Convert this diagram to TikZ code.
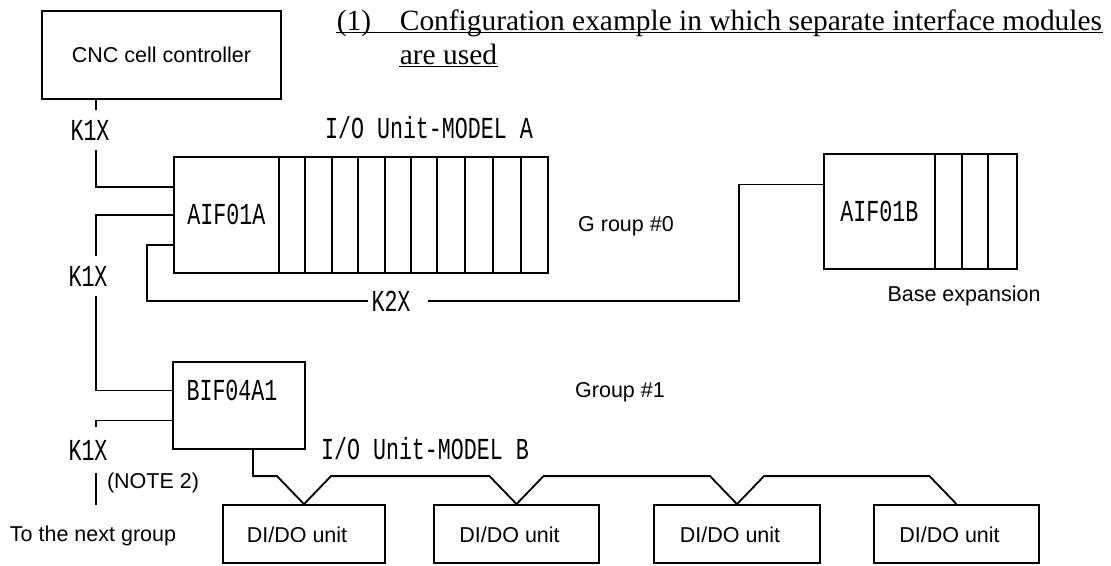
\documentclass[tikz,border=0pt]{standalone}
\usepackage{fontspec}
\setmainfont{Liberation Sans}
\newfontfamily\serifF{Liberation Serif}
\newfontfamily\monoF{Liberation Mono}[FakeStretch=0.71]
\begin{document}
\begin{tikzpicture}[x=1pt,y=-1pt,
  line width=1.8pt,
  every node/.style={font=\fontsize{21.5}{25}\selectfont},
  box/.style={draw, line width=1.8pt, inner sep=0pt},
  mono/.style={font=\monoF\fontsize{30.5}{32}\selectfont, inner sep=0pt},
  sans/.style={font=\fontsize{21.5}{25}\selectfont, inner sep=0pt},
  ttl/.style={font=\serifF\fontsize{29.4}{31}\selectfont, inner sep=0pt, anchor=base west},
  klab/.style={mono, inner ysep=9pt, inner xsep=2pt},
  slot/.style={line width=1.4pt}
]
\useasboundingbox (0,0) rectangle (1111,565);
% title
\node[ttl] (t1) at (336,30) {(1)};
\node[ttl] (t2) at (399,30) {Configuration example in which separate interface modules};
\node[ttl] (t3) at (399,64) {are used};
\draw[line width=1.5pt] ([yshift=-2.5pt]t1.base west) -- ([yshift=-2.5pt]t2.base east);
\draw[line width=1.5pt] ([yshift=-2.5pt]t3.base west) -- ([yshift=-2.5pt]t3.base east);

% CNC
\node[box, minimum width=239pt, minimum height=88pt] (cnc) at (161.5,55) {CNC cell controller};

% I/O unit model A
\node[mono] (labA) at (429,128) {I/O Unit-MODEL A};
\node[box, minimum width=105pt, minimum height=116pt, anchor=north west, font=\monoF\fontsize{30.5}{32}\selectfont] (aif) at (173,156) {AIF01A};
\node[box, minimum width=269pt, minimum height=116pt, anchor=north west] (rackA) at (278,156) {};
\foreach \x in {305,332,358,385,411,437,465,493,521}
  \draw[slot] (\x,156) -- (\x,272);

\node[sans] (g0) at (626,226) {G roup \#0};

% AIF01B
\node[box, minimum width=111pt, minimum height=115pt, anchor=north west, font=\monoF\fontsize{30.5}{32}\selectfont] (aifB) at (823,153) {AIF01B};
\node[box, minimum width=82pt, minimum height=115pt, anchor=north west] (rackB) at (934,153) {};
\foreach \x in {962,988}
  \draw[slot] (\x,153) -- (\x,268);
\node[sans] (bexp) at (964,296) {Base expansion};

% K1X labels
\coordinate (lx) at (96,0);
\node[klab] (k1a) at (90,130) {K1X};
\node[klab] (k1b) at (88,276) {K1X};
\node[klab, inner ysep=12pt] (k1c) at (88,450) {K1X};
\node[mono, inner xsep=3pt] (k2x) at (391,301) {K2X};

\draw (cnc.south -| lx) -- (k1a.north -| lx);
\draw (k1a.south -| lx) |- ([yshift=28pt]aif.west);
\draw (aif.west) -| (k1b.north -| lx);

% K2X connection
\coordinate (kturn) at (739,0);
\coordinate (bw) at ([yshift=27pt]aifB.west);
\draw ([yshift=-30pt]aif.west) -- ++(-26,0) |- (k2x.west);
\draw ([xshift=14pt]k2x.east) -- (kturn |- k2x.east) |- (bw);

% BIF04A1
\node[box, minimum width=132pt, minimum height=87pt, anchor=north west] (bif) at (172,361) {};
\node[mono] (bift) at (232,390) {BIF04A1};
\draw (k1b.south -| lx) |- ([yshift=15pt]bif.west);
\draw ([yshift=-15pt]bif.west) -| (k1c.north -| lx);
\coordinate (nextg) at (96,505);
\draw (k1c.south -| lx) -- (nextg);
\node[sans] (note) at (153,483) {(NOTE 2)};
\node[sans] (tonext) at (93,536) {To the next group};

\node[sans] (g1) at (620,392) {Group \#1};
\node[mono] (labB) at (425,449) {I/O Unit-MODEL B};

% DI/DO units
\node[box, minimum width=162pt, minimum height=58pt] (d1) at (304,534) {};
\node[box, minimum width=165pt, minimum height=58pt] (d2) at (516.5,534) {};
\node[box, minimum width=166pt, minimum height=58pt] (d3) at (737,534) {};
\node[box, minimum width=165pt, minimum height=58pt] (d4) at (956.5,534) {};
\foreach \n in {d1,d2,d3,d4}
  \node[sans] at ([xshift=-7pt,yshift=-1pt]\n.center) {DI/DO unit};

% bus
\draw ([xshift=14pt]bif.south) |- ([xshift=-27pt,yshift=28pt]d1.north) -- (d1.north)
      -- ([xshift=27pt,yshift=28pt]d1.north) -- ([xshift=-27pt,yshift=28pt]d2.north) -- (d2.north)
      -- ([xshift=27pt,yshift=28pt]d2.north) -- ([xshift=-27pt,yshift=28pt]d3.north) -- (d3.north)
      -- ([xshift=27pt,yshift=28pt]d3.north) -- ([xshift=-27pt,yshift=28pt]d4.north) -- (d4.north);
\end{tikzpicture}
\end{document}
